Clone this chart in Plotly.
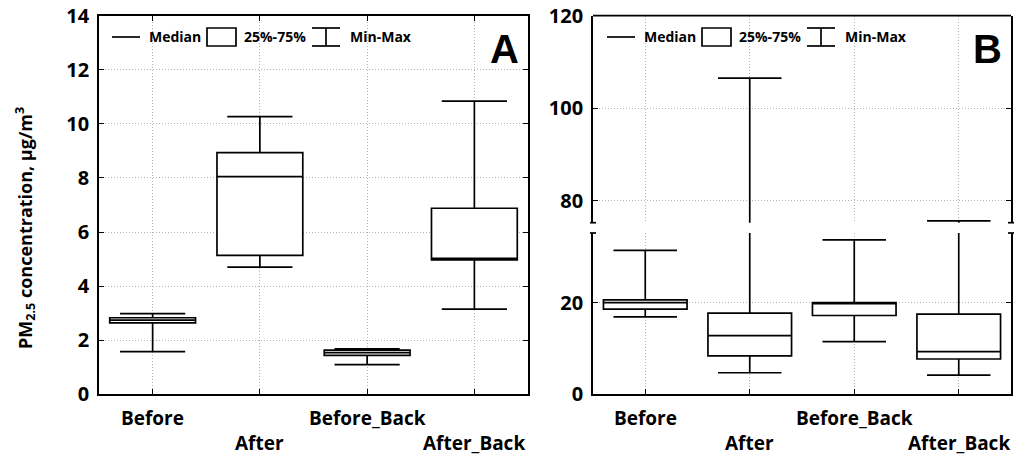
import plotly.graph_objects as go

# ---- data ----
categories = ["Before", "After", "Before_Back", "After_Back"]

# Panel A: PM2.5 (µg/m3)
a_min = [1.58, 4.70, 1.10, 3.15]
a_q1 = [2.64, 5.14, 1.44, 4.97]
a_med = [2.74, 8.05, 1.54, 5.03]
a_q3 = [2.83, 8.94, 1.63, 6.88]
a_max = [2.98, 10.27, 1.68, 10.84]

# Panel B: PM2.5 (µg/m3)
b_min = [16.9, 4.7, 11.5, 4.2]
b_q1 = [18.6, 8.4, 17.2, 7.7]
b_med = [20.0, 12.8, 19.9, 9.3]
b_q3 = [20.6, 17.7, 20.0, 17.5]
b_max = [31.4, 106.5, 33.7, 75.6]

a_ticks = [0, 2, 4, 6, 8, 10, 12, 14]
b_low_ticks = [0, 20]
b_high_ticks = [80, 100, 120]

# ---- layout helpers (pixel -> paper) ----
W, H = 1020, 456
def fx(p):
    return p / W
def fy(p):
    return 1 - p / H

FONT = "Open Sans"
LW = 1.7
xpos = list(range(len(categories)))

A_X = (99, 528)
B_X = (593, 1011)
TOP, BOT = 15.7, 394.3
B_GAP_TOP, B_GAP_BOT = 222.7, 233.0

def bold(size):
    return dict(family=FONT, size=size, color="black", weight="bold")

fig = go.Figure()

def add_boxes(xa, ya, q1, med, q3, lo, hi):
    fig.add_trace(go.Box(
        x=xpos, q1=q1, median=med, q3=q3, lowerfence=lo, upperfence=hi,
        xaxis=xa, yaxis=ya, width=0.8, whiskerwidth=0.76,
        line=dict(color="black", width=LW), fillcolor="white",
        boxpoints=False, showlegend=False, hoverinfo="skip",
    ))

add_boxes("x", "y", a_q1, a_med, a_q3, a_min, a_max)
add_boxes("x2", "y2", b_q1, b_med, b_q3, b_min, b_max)
add_boxes("x2", "y3", b_q1, b_med, b_q3, b_min, b_max)

grid = dict(showgrid=True, gridcolor="#b4b4b4", griddash="1px,2px", gridwidth=1)
axline = dict(showline=True, linecolor="black", linewidth=LW,
              ticks="inside", ticklen=5, tickwidth=1.4, tickcolor="black")
tickfont = bold(20)

xcommon = dict(range=[-0.5, 3.5], tickvals=xpos, showticklabels=False,
               zeroline=False, automargin=False, **grid, **axline)

fig.update_layout(
    width=W, height=H, margin=dict(l=0, r=0, t=0, b=0),
    paper_bgcolor="white", plot_bgcolor="white",
    xaxis=dict(domain=[fx(A_X[0]), fx(A_X[1])], anchor="y", mirror="ticks", **xcommon),
    yaxis=dict(domain=[fy(BOT), fy(TOP)], anchor="x", range=[0, 14], tickvals=a_ticks,
               mirror="ticks", tickfont=tickfont, zeroline=False, automargin=False,
               ticklabelstandoff=4, **grid, **axline),
    xaxis2=dict(domain=[fx(B_X[0]), fx(B_X[1])], anchor="y2", **xcommon),
    yaxis2=dict(domain=[fy(BOT), fy(B_GAP_BOT)], anchor="x2", range=[0, 35.2],
                tickvals=b_low_ticks, mirror="ticks", tickfont=tickfont,
                zeroline=False, automargin=False, ticklabelstandoff=4, **grid, **axline),
    yaxis3=dict(domain=[fy(B_GAP_TOP), fy(TOP)], anchor="x2", range=[75.2, 120],
                tickvals=b_high_ticks, mirror="ticks", tickfont=tickfont,
                zeroline=False, automargin=False, ticklabelstandoff=4, **grid, **axline),
)

shapes = []
annotations = []

# top edge of panel B frame and the axis-break caps
shapes.append(dict(type="line", xref="paper", yref="paper",
                   x0=fx(B_X[0]), x1=fx(B_X[1]), y0=fy(TOP), y1=fy(TOP),
                   line=dict(color="black", width=LW)))
for xe in B_X:
    for ye in (B_GAP_TOP, B_GAP_BOT):
        shapes.append(dict(type="line", xref="paper", yref="paper",
                           x0=fx(xe - 3), x1=fx(xe + 3), y0=fy(ye), y1=fy(ye),
                           line=dict(color="black", width=LW)))

# category labels on two staggered rows
for xref in ("x", "x2"):
    for i, name in enumerate(categories):
        row_y = 418 if i % 2 == 0 else 443
        annotations.append(dict(x=i, xref=xref, y=fy(row_y), yref="paper",
                                text=name, showarrow=False, xanchor="center",
                                yanchor="middle", font=bold(19)))

# in-plot key: median line, quartile box, min-max whisker
def add_key(x0):
    yc = 37
    lf = dict(color="black", width=LW)
    shapes.append(dict(type="line", xref="paper", yref="paper",
                       x0=fx(x0), x1=fx(x0 + 28), y0=fy(yc), y1=fy(yc), line=lf))
    annotations.append(dict(x=fx(x0 + 35), y=fy(yc), xref="paper", yref="paper",
                            text="Median", showarrow=False, xanchor="left", yanchor="middle",
                            font=bold(14)))
    bx = x0 + 95
    shapes.append(dict(type="rect", xref="paper", yref="paper",
                       x0=fx(bx), x1=fx(bx + 29), y0=fy(yc - 9), y1=fy(yc + 9),
                       line=lf, fillcolor="white"))
    annotations.append(dict(x=fx(bx + 35), y=fy(yc), xref="paper", yref="paper",
                            text="25%-75%", showarrow=False, xanchor="left", yanchor="middle",
                            font=bold(14)))
    wx = x0 + 200
    for yy in (yc - 9, yc + 9):
        shapes.append(dict(type="line", xref="paper", yref="paper",
                           x0=fx(wx), x1=fx(wx + 28), y0=fy(yy), y1=fy(yy), line=lf))
    shapes.append(dict(type="line", xref="paper", yref="paper",
                       x0=fx(wx + 14), x1=fx(wx + 14), y0=fy(yc - 9), y1=fy(yc + 9), line=lf))
    annotations.append(dict(x=fx(wx + 36), y=fy(yc), xref="paper", yref="paper",
                            text="Min-Max", showarrow=False, xanchor="left", yanchor="middle",
                            font=bold(14)))

add_key(112)
add_key(607)

# panel letters
for letter, xr in (("A", A_X[1]), ("B", B_X[1])):
    annotations.append(dict(x=fx(xr - 7), y=fy(49), xref="paper", yref="paper",
                            text=letter, showarrow=False, xanchor="right", yanchor="middle",
                            font=dict(family="Liberation Sans", size=40, color="black",
                                      weight="bold")))

# y-axis title
annotations.append(dict(x=fx(25), y=fy(228), xref="paper", yref="paper",
                        text="PM<sub>2.5</sub> concentration, µg/m<sup>3</sup>",
                        showarrow=False, textangle=-90, xanchor="center", yanchor="middle",
                        font=bold(18)))

fig.update_layout(shapes=shapes, annotations=annotations)
fig.write_html("out.html")
